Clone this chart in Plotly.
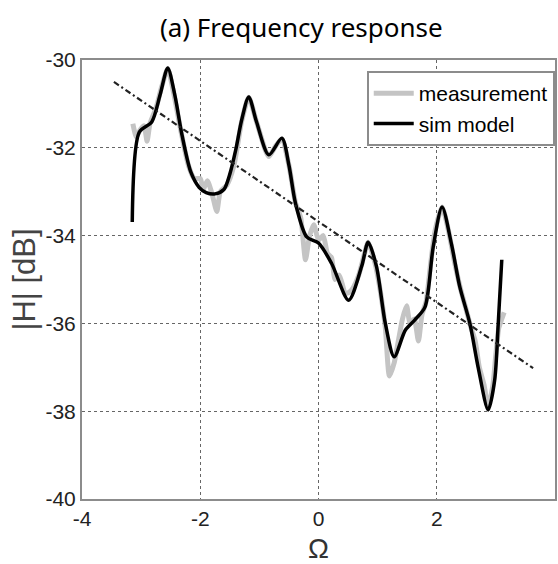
import plotly.graph_objects as go

# Sim model (black)
sim_x = [-3.15, -3.03, -2.82, -2.68, -2.55, -2.43, -2.31, -2.16, -2.02, -1.9, -1.75, -1.6,
         -1.5, -1.4, -1.3, -1.18, -1.05, -0.84, -0.62, -0.5, -0.39, -0.2, 0.0, 0.22, 0.51,
         0.73, 0.84, 0.98, 1.13, 1.28, 1.47, 1.63, 1.8, 1.94, 2.09, 2.25, 2.39, 2.56, 2.7,
         2.87, 2.98, 3.04, 3.1]
sim_y = [-33.69, -31.64, -31.41, -30.8, -30.18, -30.8, -31.7, -32.55, -32.9, -33.02, -33.05,
         -32.95, -32.6, -32.05, -31.37, -30.84, -31.4, -32.16, -31.78, -32.4, -33.26, -34.03,
         -34.17, -34.63, -35.47, -34.7, -34.15, -34.7, -36.0, -36.76, -36.15, -35.92, -35.63,
         -34.26, -33.35, -34.2, -35.17, -36.0, -37.0, -37.97, -37.29, -36.0, -34.55]

# Measurement (gray)
meas_x = [-3.14, -3.08, -3.02, -2.95, -2.9, -2.85, -2.75, -2.65, -2.55, -2.45, -2.33, -2.2,
          -2.1, -2.0, -1.95, -1.88, -1.8, -1.72, -1.66, -1.55, -1.43, -1.3, -1.18, -1.05,
          -0.9, -0.84, -0.72, -0.62, -0.5, -0.39, -0.3, -0.22, -0.15, -0.08, 0.0, 0.08,
          0.15, 0.22, 0.28, 0.35, 0.45, 0.51, 0.58, 0.68, 0.78, 0.84, 0.95, 1.05, 1.13,
          1.2, 1.28, 1.35, 1.42, 1.49, 1.55, 1.62, 1.69, 1.75, 1.82, 1.9, 1.97, 2.09, 2.2,
          2.3, 2.4, 2.5, 2.58, 2.65, 2.72, 2.8, 2.87, 2.95, 3.0, 3.05, 3.1, 3.14]
meas_y = [-31.45, -31.75, -31.6, -31.5, -31.85, -31.45, -31.1, -30.6, -30.2, -30.75, -31.6,
          -32.4, -32.7, -32.7, -32.95, -32.75, -33.05, -33.45, -33.0, -32.85, -32.4, -31.4,
          -30.85, -31.4, -32.05, -32.2, -31.95, -31.8, -32.4, -33.25, -33.6, -34.55, -34.0,
          -33.75, -34.1, -34.0, -34.4, -34.5, -35.0, -34.9, -35.3, -35.3, -35.2, -34.9,
          -34.4, -34.15, -34.6, -35.3, -36.1, -37.2, -36.9, -36.4, -35.9, -35.6, -36.0,
          -35.9, -36.4, -35.8, -35.5, -34.6, -33.9, -33.35, -33.9, -34.6, -35.2, -35.7,
          -36.1, -36.4, -37.0, -37.4, -37.9, -37.4, -36.7, -36.1, -35.9, -35.75]

# Linear trend (dash-dot)
trend_x = [-3.46, 3.63]
trend_y = [-30.5, -37.02]

x_ticks = [-4, -2, 0, 2, 4]
y_ticks = [-40, -38, -36, -34, -32, -30]

fig = go.Figure()
fig.add_trace(go.Scatter(x=meas_x, y=meas_y, mode="lines", name="measurement",
                         line=dict(color="#c4c4c4", width=5, shape="spline", smoothing=0.6)))
fig.add_trace(go.Scatter(x=sim_x, y=sim_y, mode="lines", name="sim model",
                         line=dict(color="black", width=3.5, shape="spline", smoothing=0.8)))
fig.add_trace(go.Scatter(x=trend_x, y=trend_y, mode="lines", showlegend=False,
                         line=dict(color="#222222", width=2.2, dash="6px,3px,2px,3px")))

axis_common = dict(showline=True, linecolor="#8c8c8c", linewidth=2, mirror=True,
                   showgrid=True, gridcolor="#666666", gridwidth=1.2, griddash="3px,3px",
                   zeroline=False, ticks="", color="#222222",
                   tickfont=dict(family="Liberation Sans, Arial", size=21, color="#222222"))

fig.update_xaxes(range=[-4, 4], tickvals=x_ticks, ticktext=[str(v) for v in x_ticks],
                 title=dict(text="Ω", font=dict(family="Liberation Sans, Arial", size=28,
                                                  color="#333333"), standoff=10),
                 **axis_common)
fig.update_yaxes(range=[-40, -30], tickvals=y_ticks, ticktext=[str(v) for v in y_ticks],
                 title=dict(text="|H| [dB]", font=dict(family="Liberation Sans, Arial", size=31,
                                                        color="#444444"), standoff=1),
                 **axis_common)

fig.update_layout(
    width=558, height=564,
    margin=dict(l=82, r=1, t=60, b=65),
    paper_bgcolor="white", plot_bgcolor="white",
    title=dict(text="(a) Frequency response", x=0.54, xanchor="center", y=0.95,
               yanchor="middle",
               font=dict(family="Noto Sans, Open Sans, sans-serif", size=26, color="black")),
    legend=dict(x=0.602, y=0.975, xanchor="left", yanchor="top",
                bgcolor="white", bordercolor="#8c8c8c", borderwidth=2,
                font=dict(family="Liberation Sans, Arial", size=21, color="black"),
                itemwidth=40, tracegroupgap=2),
    showlegend=True,
)

fig.write_html("out.html")
